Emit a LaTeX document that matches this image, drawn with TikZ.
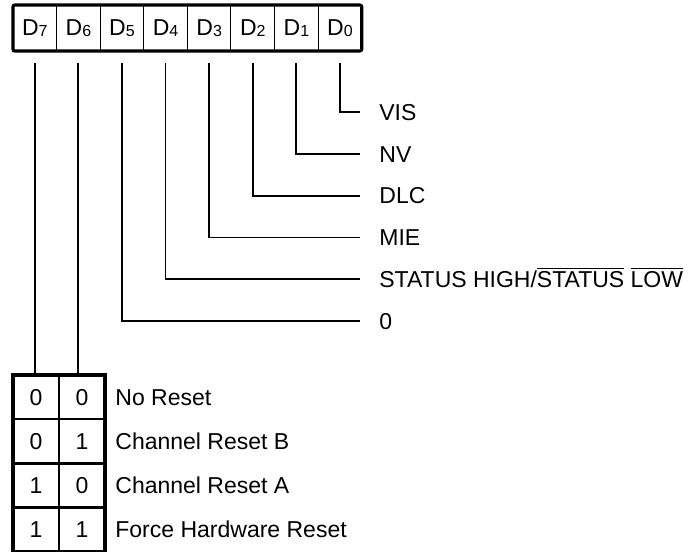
\documentclass[tikz,border=0pt]{standalone}
\usepackage{fontspec}
\setmainfont{Liberation Sans}
\usetikzlibrary{positioning}
\newcommand{\dbit}[1]{D\raisebox{-0.5pt}{\fontsize{8}{8}\selectfont #1}}

\begin{document}
\begin{tikzpicture}[x=0.5pt,y=-0.5pt,font=\fontsize{11.5}{13}\selectfont,node distance=0pt]
  \tikzstyle{bit}=[draw,line width=0.5pt,outer sep=0pt,inner sep=0pt,minimum width=21.8pt,minimum height=23pt]
  \tikzstyle{cell}=[draw,line width=1.2pt,outer sep=0pt,inner sep=0pt,minimum width=23pt,minimum height=22.1pt]
  \tikzstyle{lbl}=[anchor=west,inner xsep=9.5pt,inner ysep=0pt,text height=8.2pt,text depth=0pt]
  \tikzstyle{tlbl}=[inner sep=0pt,text height=8.2pt,text depth=0pt]
  \tikzstyle{wire}=[line width=0.9pt]
  \useasboundingbox (0,0) rectangle (693,552);
  % register bits
  \node[bit] (d7) at (34.8,28) {\dbit{7}};
  \node[bit] (d6) [right=of d7] {\dbit{6}};
  \node[bit] (d5) [right=of d6] {\dbit{5}};
  \node[bit] (d4) [right=of d5] {\dbit{4}};
  \node[bit] (d3) [right=of d4] {\dbit{3}};
  \node[bit] (d2) [right=of d3] {\dbit{2}};
  \node[bit] (d1) [right=of d2] {\dbit{1}};
  \node[bit] (d0) [right=of d1] {\dbit{0}};
  \draw[line width=1.6pt,rounded corners=1pt] (d7.north west) rectangle (d0.south east);
  % bit meanings
  \node[lbl] (vis) at (360,112) {VIS};
  \node[lbl] (nv) [below=20.9pt of vis.west,anchor=west] {NV};
  \node[lbl] (dlc) [below=20.9pt of nv.west,anchor=west] {DLC};
  \node[lbl] (mie) [below=20.9pt of dlc.west,anchor=west] {MIE};
  \node[lbl] (stat) [below=20.9pt of mie.west,anchor=west] {STATUS HIGH/$\overline{\mbox{STATUS}}$ $\overline{\mbox{LOW}}$};
  \node[lbl] (zero) [below=20.9pt of stat.west,anchor=west] {0};
  % reset table
  \node[cell] (a0) at (36,397.1) {0};
  \node[cell] (b0) [right=of a0] {0};
  \node[cell] (a1) [below=of a0] {0};
  \node[cell] (b1) [right=of a1] {1};
  \node[cell] (a2) [below=of a1] {1};
  \node[cell] (b2) [right=of a2] {0};
  \node[cell] (a3) [below=of a2] {1};
  \node[cell] (b3) [right=of a3] {1};
  \draw[line width=1.6pt] (a0.north west) rectangle (b3.south east);
  \node[tlbl] (rst0) [right=5pt of b0] {No Reset};
  \node[tlbl] (rst1) [right=5pt of b1] {Channel Reset B};
  \node[tlbl] (rst2) [right=5pt of b2] {Channel Reset A};
  \node[tlbl] (rst3) [right=5pt of b3] {Force Hardware Reset};
  % wires
  \draw[wire,shorten <=6pt] (d0.south) |- (vis.west);
  \draw[wire,shorten <=6pt] (d1.south) |- (nv.west);
  \draw[wire,shorten <=6pt] (d2.south) |- (dlc.west);
  \draw[wire,shorten <=6pt] (d3.south) |- (mie.west);
  \draw[wire,shorten <=6pt] (d4.south) |- (stat.west);
  \draw[wire,shorten <=6pt] (d5.south) |- (zero.west);
  \draw[wire,shorten <=6pt] (d7.south) -- (d7.south |- a0.north);
  \draw[wire,shorten <=6pt] (d6.south) -- (d6.south |- b0.north);
\end{tikzpicture}
\end{document}
